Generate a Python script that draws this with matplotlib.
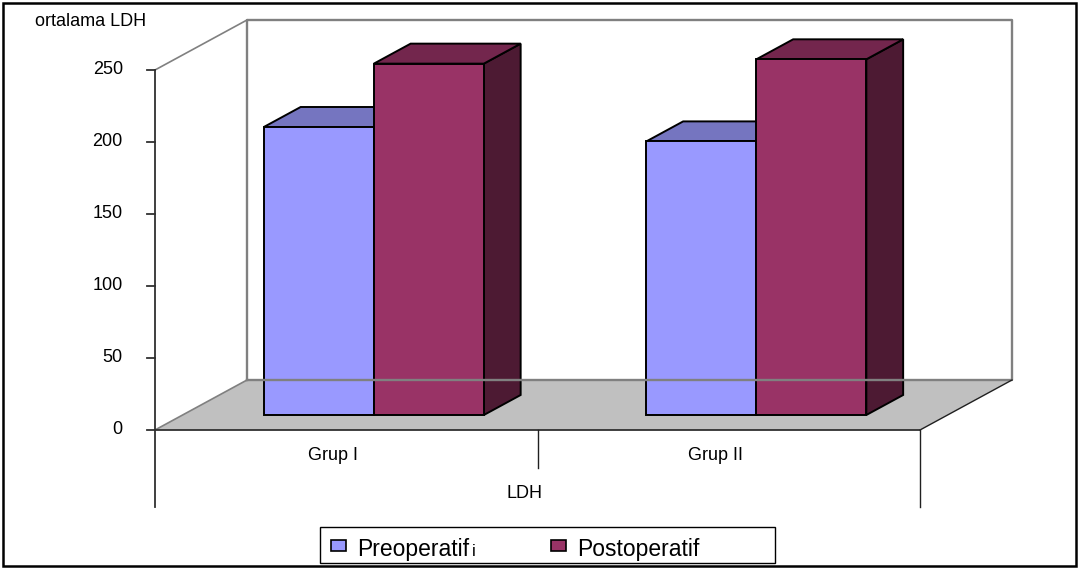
#!/usr/bin/env python3
"""Oblique 3D-style grouped bar chart of mean LDH, pre- and postoperative."""

import matplotlib.pyplot as plt
from matplotlib.patches import Polygon, Rectangle

plt.rcParams["font.family"] = ["Liberation Sans", "DejaVu Sans"]

# Data
groups = ["Grup I", "Grup II"]
series = ["Preoperatif", "Postoperatif"]
preop = [200, 190]
postop = [244, 247]
y_ticks = [0, 50, 100, 150, 200, 250]
axis_title = "ortalama LDH"
category_title = "LDH"

front_colors = ["#9999FF", "#993366"]
top_colors = ["#7575C0", "#73264D"]
side_colors = ["#4D4D80", "#4D1A33"]

W, H = 1081, 569
fig = plt.figure(figsize=(W / 100, H / 100), dpi=100)

# Plot area in pixels: front face spans x 155..920, y 430 (0) .. 70 (250)
ax = fig.add_axes([155 / W, 1 - 430 / H, 765 / W, 360 / H])
ax.set_xlim(0, len(groups))
ax.set_ylim(0, 250)
ax.axis("off")

# Oblique depth offset (full depth) in data units
DX = 92 / 382.5
DY = 50 / 1.44
YMAX = 250


def proj(x, v, d):
    return (x + d * DX, v + d * DY)


def poly(pts, **kw):
    ax.add_patch(Polygon(pts, closed=True, clip_on=False, **kw))


n = len(groups)

# Floor
poly([proj(0, 0, 0), proj(0, 0, 1), proj(n, 0, 1), proj(n, 0, 0)],
     facecolor="#C0C0C0", edgecolor="none")

# Back wall and side wall outlines
wall = "#808080"
ax.plot(*zip(proj(0, 0, 1), proj(0, YMAX, 1), proj(n, YMAX, 1), proj(n, 0, 1), proj(0, 0, 1)),
        color=wall, lw=1.7, clip_on=False)
ax.plot(*zip(proj(0, YMAX, 0), proj(0, YMAX, 1)), color=wall, lw=1.2, clip_on=False)
ax.plot(*zip(proj(0, 0, 0), proj(0, 0, 1)), color=wall, lw=1.2, clip_on=False)
ax.plot(*zip(proj(n, 0, 0), proj(n, 0, 1)), color="#202020", lw=1.0, clip_on=False)

# Front axis lines
ax.plot([0, 0], [-53.5, YMAX], color="#303030", lw=1.3, clip_on=False)
ax.plot([0, n], [0, 0], color="#303030", lw=1.3, clip_on=False)
ax.plot([n, n], [-53.5, 0], color="#202020", lw=1.0, clip_on=False)
for i in range(1, n):
    ax.plot([i, i], [-26.4, 0], color="#202020", lw=1.0, clip_on=False)

# Value ticks and labels
for t in y_ticks:
    ax.plot([-0.021, 0], [t, t], color="#303030", lw=1.3, clip_on=False)
    ax.text(-0.084, t, str(t), ha="right", va="center", fontsize=13)

# Bars
bar_w = 110 / 382.5
d0, d1 = 0.3, 0.7
edge = dict(edgecolor="black", linewidth=1.4, joinstyle="miter")
for gi in range(n):
    center = gi + 0.5
    for si, vals in enumerate([preop, postop]):
        v = vals[gi]
        x0 = center - bar_w + si * bar_w
        x1 = x0 + bar_w
        poly([proj(x1, 0, d0), proj(x1, v, d0), proj(x1, v, d1), proj(x1, 0, d1)],
             facecolor=side_colors[si], **edge)
        poly([proj(x0, v, d0), proj(x1, v, d0), proj(x1, v, d1), proj(x0, v, d1)],
             facecolor=top_colors[si], **edge)
        poly([proj(x0, 0, d0), proj(x1, 0, d0), proj(x1, v, d0), proj(x0, v, d0)],
             facecolor=front_colors[si], **edge)

# Category labels
shift = 13 / 382.5
for gi, g in enumerate(groups):
    ax.text(gi + 0.5 - shift, -17.4, g, ha="center", va="center", fontsize=13)
ax.text(n / 2 - shift, -43.8, category_title, ha="center", va="center", fontsize=13)

# Axis title
fig.text(35 / W, 1 - 22 / H, axis_title, ha="left", va="center", fontsize=13)

# Legend box
fig.patches.append(Rectangle((320 / W, 1 - 563 / H), 455 / W, 36 / H,
                             transform=fig.transFigure, facecolor="white",
                             edgecolor="black", lw=1.0))
legend_texts = []
for si, (name, x_box, x_txt) in enumerate(zip(series, [331, 551], [357, 577])):
    fig.patches.append(Rectangle((x_box / W, 1 - 551 / H), 15 / W, 11 / H,
                                 transform=fig.transFigure,
                                 facecolor=front_colors[si], edgecolor="black", lw=1.2))
    legend_texts.append(fig.text(x_txt / W, 1 - 556 / H, name, ha="left",
                                 va="baseline", fontsize=16.5))

# Small trailing "i" right after the first legend entry
fig.canvas.draw()
bb = legend_texts[0].get_window_extent()
fig.text((bb.x1 + 3) / W, 1 - 556 / H, "i", ha="left", va="baseline", fontsize=12)

# Outer border
fig.patches.append(Rectangle((3 / W, 1 - 566 / H), 1073 / W, 563 / H,
                             transform=fig.transFigure, facecolor="none",
                             edgecolor="black", lw=1.8))

fig.savefig("out.png", dpi=100)
